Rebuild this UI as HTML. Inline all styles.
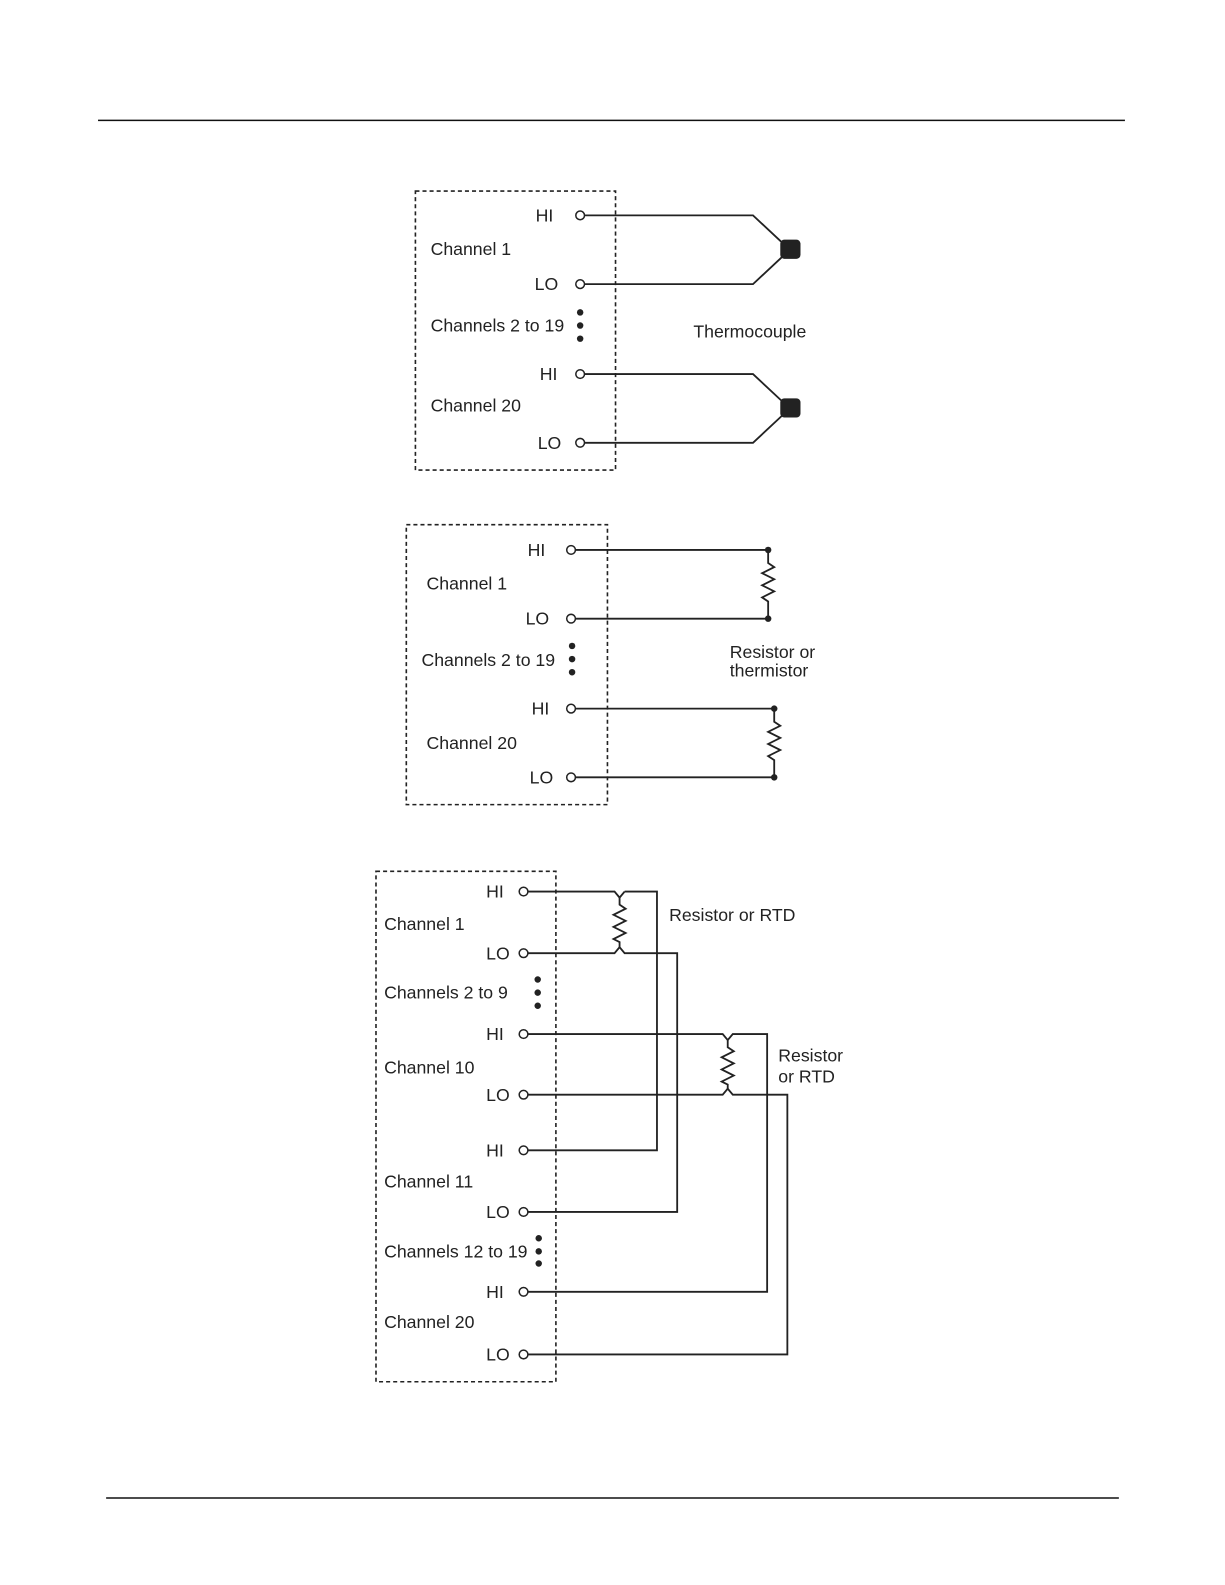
<!DOCTYPE html>
<html><head><style>
html,body{margin:0;padding:0;background:#fff;}
svg{display:block;}
text{font-family:"Liberation Sans",sans-serif;font-size:17.5px;fill:#222;}
</style></head><body>
<svg width="1225" height="1585" viewBox="0 0 1212 1568" xmlns="http://www.w3.org/2000/svg">
<g stroke="#111" fill="none" stroke-width="1.6">
<line x1="97" y1="119" x2="1113" y2="119" stroke-width="1.4"/>
<line x1="105" y1="1482" x2="1107" y2="1482" stroke-width="1.4"/>
</g>
<g stroke="#222" fill="none" stroke-width="1.6" stroke-dasharray="4,3">
<rect x="411" y="189" width="198" height="276"/>
<rect x="402" y="519" width="199" height="277"/>
<rect x="372" y="862" width="178" height="505"/>
</g>
<g stroke="#222" fill="none" stroke-width="1.8">
<polyline points="578,213 745,213 775,241"/>
<polyline points="578,281 745,281 775,253"/>
<polyline points="578,370 745,370 775,398"/>
<polyline points="578,438 745,438 775,410"/>
<line x1="569" y1="544" x2="760" y2="544"/>
<line x1="569" y1="612" x2="760" y2="612"/>
<polyline points="760,544 760,557 766,561 754,567 766,573 754,579 766,585 754,591 760,595 760,612"/>
<line x1="569" y1="701" x2="766" y2="701"/>
<line x1="569" y1="769" x2="766" y2="769"/>
<polyline points="766,701 766,714 772,718 760,724 772,730 760,736 772,742 760,748 766,752 766,769"/>
<polyline points="522,882 608,882 613,888"/>
<polyline points="618,882 650,882 650,1138 522,1138"/>
<polyline points="613,888 613,895 619,899 607,905 619,911 607,917 619,923 607,929 613,932 613,937"/>
<polyline points="522,943 608,943 613,937 618,943 670,943 670,1199 522,1199"/>
<polyline points="613,888 618,882"/>
<polyline points="522,1023 715,1023 720,1029 725,1023 759,1023 759,1278 522,1278"/>
<polyline points="720,1029 720,1036 726,1040 714,1046 726,1052 714,1058 726,1064 714,1070 720,1073 720,1077"/>
<polyline points="522,1083 715,1083 720,1077 725,1083 779,1083 779,1340 522,1340"/>
</g>
<g fill="#222">
<rect x="772" y="237" width="20" height="19" rx="4"/>
<rect x="772" y="394" width="20" height="19" rx="4"/>
<circle cx="760" cy="544" r="3.2"/><circle cx="760" cy="612" r="3.2"/>
<circle cx="766" cy="701" r="3.2"/><circle cx="766" cy="769" r="3.2"/>
<circle cx="574" cy="309" r="3.2"/><circle cx="574" cy="322" r="3.2"/><circle cx="574" cy="335" r="3.2"/>
<circle cx="566" cy="639" r="3.2"/><circle cx="566" cy="652" r="3.2"/><circle cx="566" cy="665" r="3.2"/>
<circle cx="532" cy="969" r="3.2"/><circle cx="532" cy="982" r="3.2"/><circle cx="532" cy="995" r="3.2"/>
<circle cx="533" cy="1225" r="3.2"/><circle cx="533" cy="1238" r="3.2"/><circle cx="533" cy="1250" r="3.2"/>
</g>
<g fill="#fff" stroke="#222" stroke-width="1.5">
<circle cx="574" cy="213" r="4.3"/><circle cx="574" cy="281" r="4.3"/>
<circle cx="574" cy="370" r="4.3"/><circle cx="574" cy="438" r="4.3"/>
<circle cx="565" cy="544" r="4.3"/><circle cx="565" cy="612" r="4.3"/>
<circle cx="565" cy="701" r="4.3"/><circle cx="565" cy="769" r="4.3"/>
<circle cx="518" cy="882" r="4.3"/><circle cx="518" cy="943" r="4.3"/>
<circle cx="518" cy="1023" r="4.3"/><circle cx="518" cy="1083" r="4.3"/>
<circle cx="518" cy="1138" r="4.3"/><circle cx="518" cy="1199" r="4.3"/>
<circle cx="518" cy="1278" r="4.3"/><circle cx="518" cy="1340" r="4.3"/>
</g>
<g>
<text x="530" y="219">HI</text>
<text x="426" y="252">Channel 1</text>
<text x="529" y="287">LO</text>
<text x="426" y="328">Channels 2 to 19</text>
<text x="686" y="334">Thermocouple</text>
<text x="534" y="376">HI</text>
<text x="426" y="407">Channel 20</text>
<text x="532" y="444">LO</text>

<text x="522" y="550">HI</text>
<text x="422" y="583">Channel 1</text>
<text x="520" y="618">LO</text>
<text x="417" y="659">Channels 2 to 19</text>
<text x="722" y="651">Resistor or</text>
<text x="722" y="669">thermistor</text>
<text x="526" y="707">HI</text>
<text x="422" y="741">Channel 20</text>
<text x="524" y="775">LO</text>

<text x="481" y="888">HI</text>
<text x="380" y="920">Channel 1</text>
<text x="481" y="949">LO</text>
<text x="380" y="988">Channels 2 to 9</text>
<text x="481" y="1029">HI</text>
<text x="380" y="1062">Channel 10</text>
<text x="481" y="1089">LO</text>
<text x="481" y="1144">HI</text>
<text x="380" y="1175">Channel 11</text>
<text x="481" y="1205">LO</text>
<text x="380" y="1244">Channels 12 to 19</text>
<text x="481" y="1284">HI</text>
<text x="380" y="1314">Channel 20</text>
<text x="481" y="1346">LO</text>
<text x="662" y="911">Resistor or RTD</text>
<text x="770" y="1050">Resistor</text>
<text x="770" y="1071">or RTD</text>
</g>
</svg>
</body></html>
